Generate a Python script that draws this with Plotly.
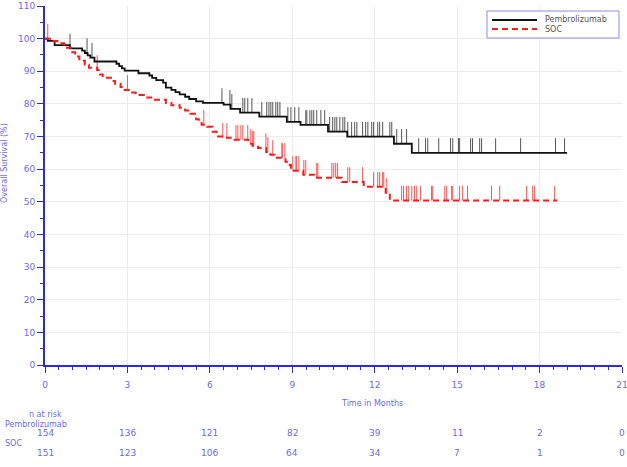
import plotly.graph_objects as go

# ---------------- data ----------------
pem_t = [0, 0.1, 0.35, 0.9, 1.35, 1.45, 1.55, 1.65, 1.8, 2.6, 2.7, 2.8, 2.9, 3.4, 3.8, 3.9, 4.05,
         4.3, 4.4, 4.6, 4.75, 4.9, 5.1, 5.25, 5.5, 5.75, 6.5, 6.75, 7.1, 7.8, 8.8, 9.3, 10.3, 11.0,
         12.7, 13.35, 19.0]
pem_s = [100, 99.3, 98.0, 97.0, 96.3, 95.6, 94.9, 94.2, 93.0, 92.3, 91.6, 90.9, 90.2, 89.4, 88.7, 88.0, 87.3,
         86.5, 85.0, 84.3, 83.6, 82.9, 82.2, 81.5, 80.8, 80.3, 79.8, 78.5, 77.3, 76.1, 74.5, 73.6, 71.5, 70.0,
         67.8, 65.0, 65.0]
pem_cens = [0.91, 1.53, 1.71, 6.44, 6.73, 6.8, 7.2, 7.27, 7.38, 7.53, 7.89, 8.07, 8.15, 8.22, 8.29, 8.4,
            8.47, 8.55, 8.84, 8.95, 9.09, 9.24, 9.49, 9.53, 9.64, 9.71, 9.78, 9.89, 10.04, 10.18, 10.36,
            10.47, 10.55, 10.62, 10.73, 10.84, 10.91, 11.02, 11.16, 11.27, 11.35, 11.56, 11.67, 11.75,
            11.89, 11.96, 12.11, 12.18, 12.29, 12.55, 12.62, 12.8, 12.98, 13.16, 13.6, 13.85, 13.93,
            14.33, 14.76, 14.84, 15.05, 15.09, 15.49, 15.56, 15.82, 15.89, 16.4, 17.31, 18.58, 18.91]

soc_t = [0, 0.25, 0.45, 0.7, 0.95, 1.1, 1.25, 1.45, 1.6, 1.9, 2.0, 2.1, 2.4, 2.55, 2.75, 2.9, 3.1, 3.3,
         3.6, 4.0, 4.4, 4.6, 4.9, 5.1, 5.3, 5.5, 5.6, 5.7, 5.9, 6.1, 6.25, 6.45, 6.9, 7.4, 7.55, 7.75,
         8.05, 8.2, 8.35, 8.75, 8.85, 8.95, 9.4, 9.8, 10.8, 11.6, 12.4, 12.55, 18.65]
soc_s = [100, 99.3, 98.6, 97.2, 95.8, 94.5, 93.2, 92.0, 91.1, 90.4, 89.0, 88.0, 87.0, 86.2, 85.2, 84.3, 83.5, 82.7,
         82.0, 81.3, 80.3, 79.6, 78.8, 78.0, 77.0, 75.3, 74.5, 73.6, 73.0, 71.5, 70.0, 69.6, 69.0, 67.8, 67.2, 66.5,
         65.3, 64.4, 63.5, 62.3, 61.3, 59.5, 58.3, 57.4, 56.1, 54.6, 52.8, 50.4, 50.4]
soc_cens = [0.1, 1.9, 3.0, 5.78, 6.47, 6.62, 6.95, 7.02, 7.13, 7.2, 7.38, 7.49, 7.56, 7.6, 8.04, 8.11, 8.29,
            8.62, 8.65, 8.73, 9.02, 9.13, 9.16, 9.24, 9.42, 9.49, 9.89, 9.93, 10.44, 10.51, 10.58, 10.65,
            11.02, 11.09, 11.56, 11.96, 12.11, 12.18, 12.29, 12.33, 12.44, 12.98, 13.05, 13.16, 13.24,
            13.35, 13.45, 13.53, 13.67, 14.07, 14.11, 14.55, 14.62, 14.8, 14.84, 15.09, 15.2, 15.38,
            16.25, 16.55, 17.53, 17.75, 17.82, 18.55]

risk_times = [0, 3, 6, 9, 12, 15, 18, 21]
risk_pem = [154, 136, 121, 82, 39, 11, 2, 0]
risk_soc = [151, 123, 106, 64, 34, 7, 1, 0]
x_ticks = [0, 3, 6, 9, 12, 15, 18, 21]
y_ticks = [0, 10, 20, 30, 40, 50, 60, 70, 80, 90, 100, 110]
series_names = ["Pembrolizumab", "SOC"]

TICK_H = 4.5
BLUE = "#2a2ae0"
LBLUE = "#6a6af0"
FONT = "DejaVu Sans"


def surv_at(ts, ss, t):
    v = ss[0]
    for ti, si in zip(ts, ss):
        if ti <= t:
            v = si
        else:
            break
    return v


def cens_segments(ts, ss, cens):
    xs, ys = [], []
    for c in cens:
        s = surv_at(ts, ss, c)
        xs += [c, c, None]
        ys += [s, s + TICK_H, None]
    return xs, ys


fig = go.Figure()

cx, cy = cens_segments(pem_t, pem_s, pem_cens)
fig.add_trace(go.Scatter(x=cx, y=cy, mode="lines", line=dict(color="#555555", width=1),
                         showlegend=False, hoverinfo="skip"))
cx, cy = cens_segments(soc_t, soc_s, soc_cens)
fig.add_trace(go.Scatter(x=cx, y=cy, mode="lines", line=dict(color="#ff5050", width=1),
                         showlegend=False, hoverinfo="skip"))

PEM_LINE = dict(color="#111111", width=1.8)
SOC_LINE = dict(color="#ff1a1a", width=2, dash="6px,4px")
fig.add_trace(go.Scatter(x=pem_t, y=pem_s, mode="lines", line_shape="hv", name=series_names[0],
                         line=PEM_LINE, showlegend=False))
fig.add_trace(go.Scatter(x=soc_t, y=soc_s, mode="lines", line_shape="hv", name=series_names[1],
                         line=SOC_LINE, showlegend=False))

fig.update_xaxes(range=[0, 21], tickvals=x_ticks, showgrid=True, gridcolor="#ececec", gridwidth=1,
                 showline=True, linecolor=BLUE, linewidth=2, ticks="outside", ticklen=6, tickcolor=BLUE,
                 tickwidth=1, tickfont=dict(size=9, color=LBLUE, family=FONT), zeroline=False,
                 ticklabeloverflow="allow", automargin=False, ticklabelstandoff=4,
                 minor=dict(dtick=0.5, ticks="outside", ticklen=3, tickcolor=BLUE, showgrid=False))
fig.update_yaxes(range=[0, 110], tickvals=y_ticks, showgrid=True, gridcolor="#ececec", gridwidth=1,
                 showline=True, linecolor=BLUE, linewidth=2, ticks="outside", ticklen=6, tickcolor=BLUE,
                 tickwidth=1, tickfont=dict(size=9, color=LBLUE, family=FONT), zeroline=False,
                 automargin=False,
                 minor=dict(dtick=5, ticks="outside", ticklen=3, tickcolor=BLUE, showgrid=False))

L, R, T, B = 45, 5, 6, 102
W, H = 627, 467
ph = H - T - B
pw = W - L - R


def py(pix_y):
    return (H - B - pix_y) / ph


def px(pix_x):
    return (pix_x - L) / pw


ann = []
small = dict(size=8, color=LBLUE, family=FONT)
ann.append(dict(text="Overall Survival (%)", textangle=-90, xref="paper", yref="paper",
                x=px(5), y=py(163), xanchor="center", yanchor="middle", showarrow=False, font=small))
ann.append(dict(text="Time in Months", xref="paper", yref="paper", x=px(372), y=py(404),
                xanchor="center", yanchor="middle", showarrow=False, font=small))
ann.append(dict(text="n at risk", xref="paper", yref="paper", x=px(45), y=py(414),
                xanchor="center", yanchor="middle", showarrow=False, font=small))
ann.append(dict(text=series_names[0], xref="paper", yref="paper", x=px(3), y=py(424),
                xanchor="left", yanchor="middle", showarrow=False, font=small))
ann.append(dict(text=series_names[1], xref="paper", yref="paper", x=px(3), y=py(443),
                xanchor="left", yanchor="middle", showarrow=False, font=small))
for t, n in zip(risk_times, risk_pem):
    ann.append(dict(text=str(n), xref="x", yref="paper", x=t, y=py(433), xanchor="center",
                    yanchor="middle", showarrow=False, font=dict(size=9, color=LBLUE, family=FONT)))
for t, n in zip(risk_times, risk_soc):
    ann.append(dict(text=str(n), xref="x", yref="paper", x=t, y=py(453), xanchor="center",
                    yanchor="middle", showarrow=False, font=dict(size=9, color=LBLUE, family=FONT)))

# custom compact legend
shapes = [dict(type="rect", xref="paper", yref="paper", x0=px(487), x1=px(619), y0=py(38), y1=py(11),
               line=dict(color="#8c8cf0", width=1), fillcolor="white", layer="above")]
for i, (nm, ln) in enumerate(zip(series_names, [PEM_LINE, SOC_LINE])):
    yy = py(20 + 9 * i)
    shapes.append(dict(type="line", xref="paper", yref="paper", x0=px(492), x1=px(537), y0=yy, y1=yy,
                       line=ln, layer="above"))
    ann.append(dict(text=nm, xref="paper", yref="paper", x=px(543), y=yy, xanchor="left",
                    yanchor="middle", showarrow=False,
                    font=dict(size=8, color="#555555", family=FONT)))

fig.update_layout(width=W, height=H, margin=dict(l=L, r=R, t=T, b=B, autoexpand=False),
                  plot_bgcolor="white", paper_bgcolor="white", annotations=ann, shapes=shapes,
                  showlegend=False)

fig.write_html("out.html")
